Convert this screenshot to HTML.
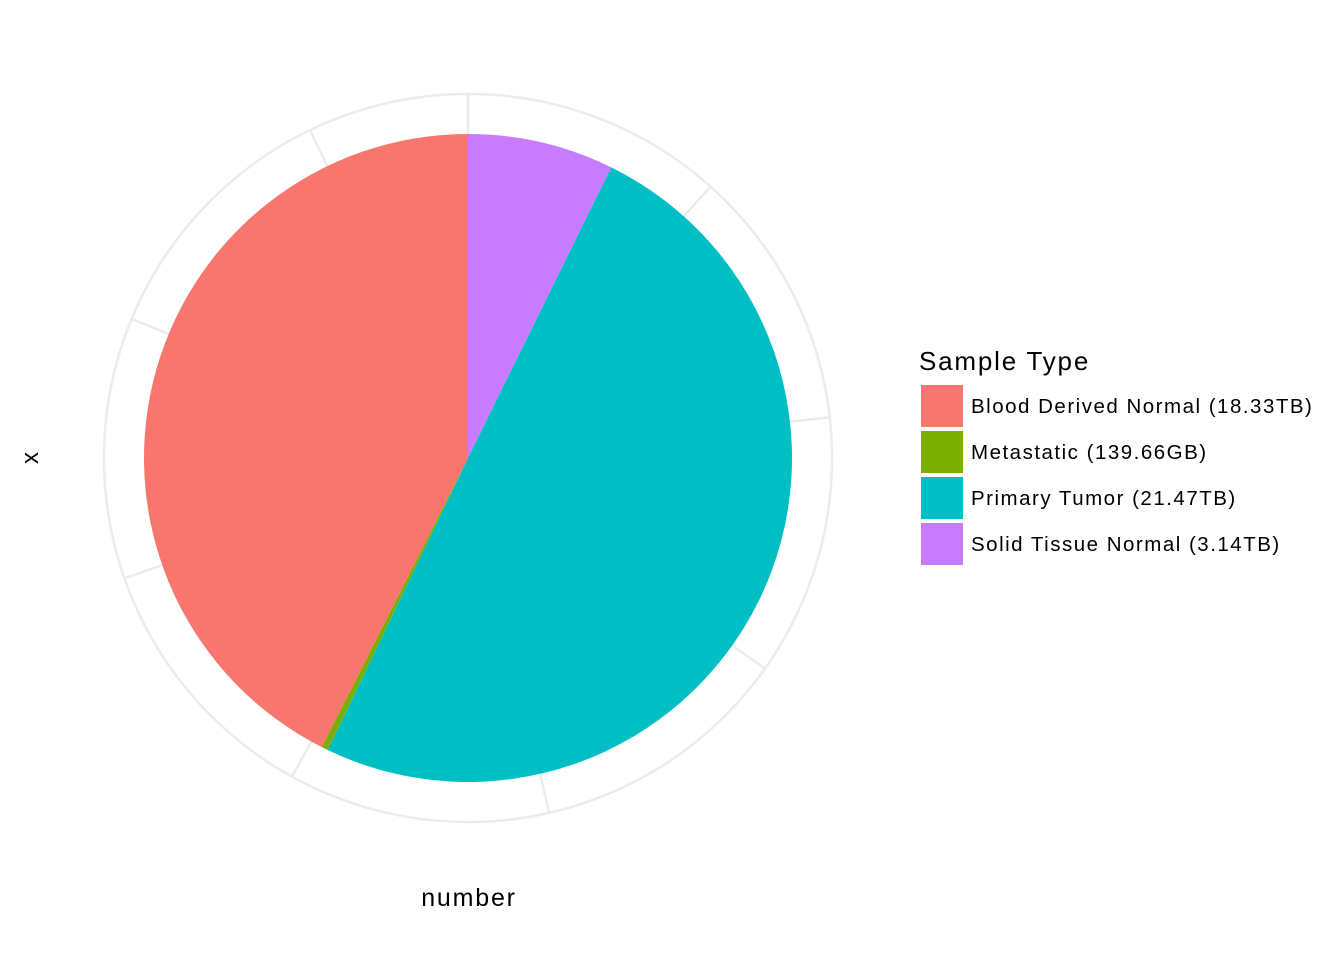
<!DOCTYPE html>
<html><head><meta charset="utf-8"><style>
body{margin:0;background:#fff;}
svg{display:block;font-family:"Liberation Sans",Arial,sans-serif;}
</style></head><body>
<svg id="chart" width="1344" height="960" viewBox="0 0 1344 960">
<g id="grid"></g>
<g id="slices"></g>
<text x="469" y="906" font-size="25" letter-spacing="1.8" text-anchor="middle" fill="#000">number</text>
<text transform="translate(38,458) rotate(-90)" font-size="24" text-anchor="middle" fill="#000">x</text>
<g id="legend">
<text x="919" y="370" font-size="26" letter-spacing="1.8" fill="#000">Sample Type</text>
</g>
</svg>
<script>
const categories = ["Blood Derived Normal (18.33TB)","Metastatic (139.66GB)","Primary Tumor (21.47TB)","Solid Tissue Normal (3.14TB)"];
const values = [18.33, 0.13966, 21.47, 3.14];
const colors = ["#F8766D","#7CAE00","#00BFC4","#C77CFF"];
const tickValues = [0,5,10,15,20,25,30,35,40];

const NS="http://www.w3.org/2000/svg";
const cx=468, cy=458, R=324, Rout=364;
const total=values.reduce((a,b)=>a+b,0);
const ang=v=>v/total*2*Math.PI;
const pt=(a,r)=>[cx+r*Math.sin(a), cy-r*Math.cos(a)];

const grid=document.getElementById('grid');
const circ=document.createElementNS(NS,'circle');
circ.setAttribute('cx',cx);circ.setAttribute('cy',cy);circ.setAttribute('r',Rout);
circ.setAttribute('fill','none');circ.setAttribute('stroke','#ebebeb');circ.setAttribute('stroke-width','2.5');


grid.appendChild(circ);
tickValues.forEach(t=>{
  if(t>=total) return;
  const [x,y]=pt(ang(t),Rout);
  const l=document.createElementNS(NS,'line');
  l.setAttribute('x1',cx);l.setAttribute('y1',cy);l.setAttribute('x2',x);l.setAttribute('y2',y);
  l.setAttribute('stroke','#ebebeb');l.setAttribute('stroke-width','2.5');
  
  
  grid.appendChild(l);
});

const slices=document.getElementById('slices');
let start=0;
for(let i=values.length-1;i>=0;i--){
  const a0=ang(start), a1=ang(start+values[i]);
  const [x0,y0]=pt(a0,R), [x1,y1]=pt(a1,R);
  const large=(a1-a0)>Math.PI?1:0;
  const p=document.createElementNS(NS,'path');
  p.setAttribute('d',`M${cx},${cy} L${x0},${y0} A${R},${R} 0 ${large} 1 ${x1},${y1} Z`);
  p.setAttribute('fill',colors[i]);
  
  
  slices.appendChild(p);
  start+=values[i];
}

const legend=document.getElementById('legend');
categories.forEach((c,i)=>{
  const y=385+i*46;
  const r=document.createElementNS(NS,'rect');
  r.setAttribute('x',921);r.setAttribute('y',y);r.setAttribute('width',42);r.setAttribute('height',42);
  r.setAttribute('fill',colors[i]);
  
  
  legend.appendChild(r);
  const t=document.createElementNS(NS,'text');
  t.setAttribute('x',971);t.setAttribute('y',y+28);t.setAttribute('font-size','20.5');
  t.setAttribute('letter-spacing','1.5');
  t.textContent=c;
  
  
  legend.appendChild(t);
});
</script>
</body></html>
